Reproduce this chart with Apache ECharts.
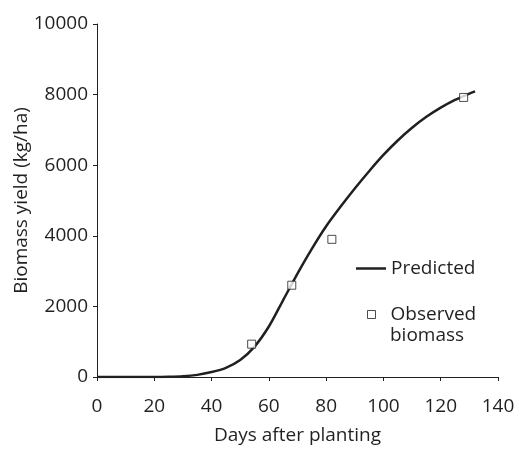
<!DOCTYPE html>
<html>
<head>
<meta charset="utf-8">
<script src="https://cdn.jsdelivr.net/npm/echarts@6/dist/echarts.min.js"></script>
<style>html,body{margin:0;padding:0;background:#fff}#c{width:517px;height:450px}</style>
</head>
<body>
<div id="c"></div>
<script>
// Predicted curve (days after planting, kg/ha)
const predDays = [0, 10, 20, 25, 30, 35, 40, 45, 50, 55, 60, 65, 70, 75, 80, 85, 90, 95, 100, 105, 110, 115, 120, 125, 130, 132];
const predVals = [0, 0, 0, 5, 20, 60, 140, 260, 480, 860, 1430, 2180, 2930, 3630, 4270, 4820, 5340, 5830, 6290, 6700, 7060, 7370, 7630, 7850, 8030, 8090];
// Observed biomass
const obsDays = [54, 68, 82, 128];
const obsVals = [930, 2600, 3900, 7920];
// Axis ticks
const xTicks = [0, 20, 40, 60, 80, 100, 120, 140];
const yTicks = [0, 2000, 4000, 6000, 8000, 10000];

const ink = '#231f20';
const font = 'Open Sans';
const fs = 19;
const chart = echarts.init(document.getElementById('c'), null, {renderer: 'canvas'});
chart.setOption({
  animation: false,
  backgroundColor: '#fff',
  grid: {left: 97, right: 19, top: 24, bottom: 73, containLabel: false, outerBoundsMode: 'none'},
  xAxis: {
    type: 'value', min: xTicks[0], max: xTicks[xTicks.length - 1], interval: xTicks[1] - xTicks[0],
    name: 'Days after planting', nameLocation: 'middle', nameGap: 49, nameMoveOverlap: false,
    nameTextStyle: {fontFamily: font, fontSize: fs, color: ink},
    axisLine: {show: true, lineStyle: {color: ink, width: 1}},
    axisTick: {show: true, length: 4, lineStyle: {color: ink}},
    axisLabel: {fontFamily: font, fontSize: fs, color: ink, margin: 20, formatter: v => String(v)},
    splitLine: {show: false}
  },
  yAxis: {
    type: 'value', min: yTicks[0], max: yTicks[yTicks.length - 1], interval: yTicks[1] - yTicks[0],
    name: 'Biomass yield (kg/ha)', nameLocation: 'middle', nameGap: 66, nameMoveOverlap: false,
    nameTextStyle: {fontFamily: font, fontSize: fs, color: ink},
    axisLine: {show: true, lineStyle: {color: ink, width: 1}},
    axisTick: {show: true, length: 4, lineStyle: {color: ink}},
    axisLabel: {fontFamily: font, fontSize: fs, color: ink, margin: 9, formatter: v => String(v)},
    splitLine: {show: false}
  },
  legend: [
    {
      left: 356, top: 257, padding: 0, orient: 'vertical',
      itemWidth: 30, itemHeight: 2.5,
      textStyle: {fontFamily: font, fontSize: fs, color: ink, lineHeight: 23},
      data: [{name: 'Predicted', icon: 'rect', itemStyle: {color: ink, borderWidth: 0}}]
    },
    {
      left: 367, top: 303, padding: 0, orient: 'vertical',
      itemWidth: 8, itemHeight: 8,
      formatter: function () { return 'Observed'; },
      textStyle: {fontFamily: font, fontSize: fs, color: ink, lineHeight: 23, padding: [0, 0, 0, 10]},
      data: [{name: 'Observed biomass', icon: 'rect', itemStyle: {color: '#fff', borderColor: ink, borderWidth: 1}}]
    }
  ],
  graphic: [{
    type: 'text', left: 390, top: 326,
    style: {text: 'biomass', fontFamily: font, fontSize: fs, fill: ink}
  }],
  series: [
    {
      name: 'Predicted', type: 'line', smooth: 0.3, showSymbol: false,
      lineStyle: {color: ink, width: 2.5}, itemStyle: {color: ink},
      data: predDays.map((d, i) => [d, predVals[i]]), z: 2
    },
    {
      name: 'Observed biomass', type: 'scatter', symbol: 'rect', symbolSize: 8,
      itemStyle: {color: '#fff', borderColor: ink, borderWidth: 1},
      data: obsDays.map((d, i) => [d, obsVals[i]]), z: 3
    }
  ]
});
</script>
</body>
</html>
